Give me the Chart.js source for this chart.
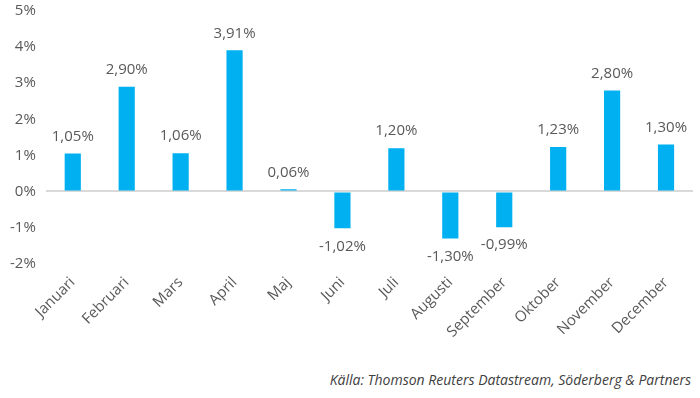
<!DOCTYPE html>
<html>
<head>
<meta charset="utf-8">
<script src="https://cdn.jsdelivr.net/npm/chart.js@4"></script>
<style>
  html, body { margin: 0; padding: 0; background: #fff; }
  #wrap { position: relative; width: 700px; height: 398px; overflow: hidden; }
  #returnsChart { position: absolute; left: 0; top: -8px; }
  #source {
    position: absolute; right: 9px; top: 370px;
    font: italic 14px "Open Sans", sans-serif; color: #404040;
  }
</style>
</head>
<body>
<div id="wrap">
  <canvas id="returnsChart" width="700" height="351"></canvas>
  <div id="source">Källa: Thomson Reuters Datastream, Söderberg &amp; Partners</div>
</div>
<script>
const months = ['Januari', 'Februari', 'Mars', 'April', 'Maj', 'Juni', 'Juli', 'Augusti', 'September', 'Oktober', 'November', 'December'];
const returns = [1.05, 2.90, 1.06, 3.91, 0.06, -1.02, 1.20, -1.30, -0.99, 1.23, 2.80, 1.30];

const textColor = '#595959';

// draws value labels above / below each bar
const valueLabels = {
    id: 'valueLabels',
    afterDatasetsDraw(chart) {
        const ctx = chart.ctx;
        const meta = chart.getDatasetMeta(0);
        ctx.save();
        ctx.font = '15px "Open Sans", sans-serif';
        ctx.fillStyle = textColor;
        ctx.textAlign = 'center';
        ctx.textBaseline = 'middle';
        meta.data.forEach(function(bar, i) {
            const v = returns[i];
            const txt = v.toFixed(2).replace('.', ',') + '%';
            const y = v >= 0 ? bar.y - 17 : bar.y + 18;
            ctx.fillText(txt, bar.x, y);
        });
        ctx.restore();
    }
};

function createChart() {
    const ctx = document.getElementById('returnsChart').getContext('2d');
    new Chart(ctx, {
        type: 'bar',
        data: {
            labels: months,
            datasets: [{
                data: returns,
                backgroundColor: '#00B0F0',
                barPercentage: 0.3,
                categoryPercentage: 1
            }]
        },
        options: {
            responsive: false,
            animation: false,
            layout: { padding: { top: 0, right: 7, left: 0, bottom: 0 } },
            plugins: {
                legend: { display: false },
                tooltip: { enabled: false }
            },
            scales: {
                y: {
                    min: -2,
                    max: 5,
                    ticks: {
                        stepSize: 1,
                        color: textColor,
                        font: { family: 'Open Sans', size: 15 },
                        padding: 10,
                        callback: function(v) { return v + '%'; }
                    },
                    border: { display: false },
                    grid: {
                        drawTicks: false,
                        color: function(c) { return c.tick && c.tick.value === 0 ? '#d9d9d9' : 'rgba(0,0,0,0)'; },
                        lineWidth: 2
                    }
                },
                x: {
                    ticks: {
                        color: textColor,
                        font: { family: 'Open Sans', size: 15 },
                        minRotation: 45,
                        maxRotation: 45,
                        padding: 2
                    },
                    border: { display: false },
                    grid: { display: false }
                }
            }
        },
        plugins: [valueLabels]
    });
}

window.onload = createChart;
</script>
</body>
</html>
